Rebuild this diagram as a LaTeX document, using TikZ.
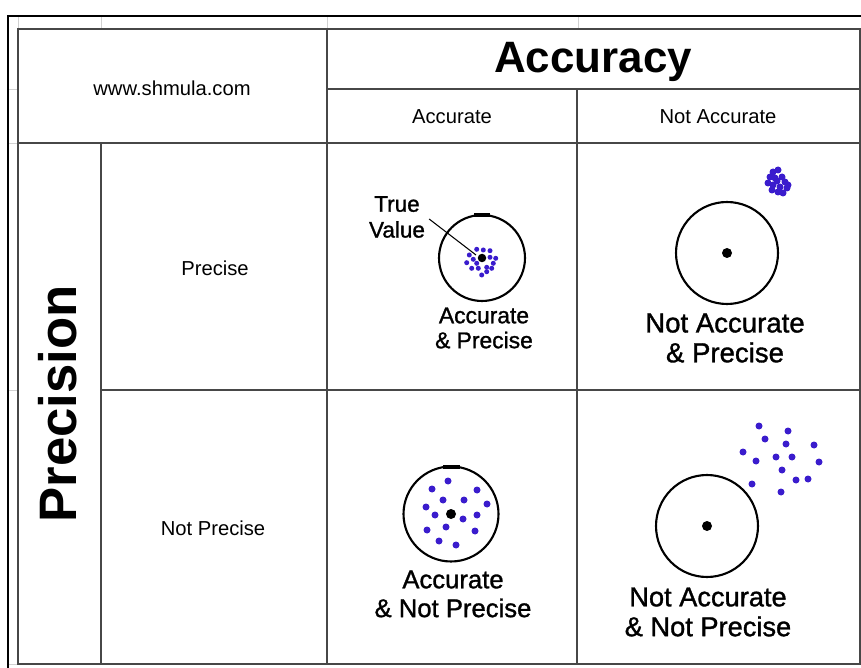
\documentclass[tikz,border=0pt]{standalone}
\usepackage{fontspec}
\setmainfont{Liberation Sans}
\newfontfamily\tagfamily[FakeBold=1.2]{Liberation Sans}
\usetikzlibrary{positioning, calc}

\definecolor{hitblue}{RGB}{58,28,205}

\begin{document}
\begin{tikzpicture}[
    x=0.02cm, y=-0.02cm,
    frame_line/.style={draw=black, line width=1.3pt},
    sheet_line/.style={draw=black!18, line width=0.5pt},
    grid_line/.style={draw=black!72, line width=1.1pt},
    head_font/.style={font=\fontsize{11.5}{13}\selectfont},
    big_font/.style={font=\fontsize{25}{28}\selectfont\bfseries},
    target/.style={circle, draw=black, line width=1.2pt, inner sep=0pt, fill=white},
    bullseye/.style={circle, fill=black, inner sep=0pt, minimum size=0.2cm},
    hit/.style={circle, fill=hitblue, inner sep=0pt, minimum size=0.14cm},
    small_hit/.style={circle, fill=hitblue, inner sep=0pt, minimum size=0.1cm},
    tag_font/.style={align=center, font=\tagfamily\fontsize{15.5}{17}\selectfont}
]
\useasboundingbox (0,0) rectangle (861,668);

% 1. Spreadsheet frame and faint grid
\draw[sheet_line] (18,16) -- (18,29);
\foreach \gx in {101, 327, 578} \draw[sheet_line] (\gx,16) -- (\gx,29);
\foreach \gy in {89, 143, 390, 664} \draw[sheet_line] (8,\gy) -- (18,\gy);
\draw[frame_line] (8,668) -- (8,16) -- (861,16);

% 2. Table grid
\draw[grid_line] (18,29) rectangle (860,664);
\draw[grid_line] (327,89) -- (860,89);
\draw[grid_line] (18,143) -- (860,143);
\draw[grid_line] (101,390) -- (860,390);
\draw[grid_line] (327,29) -- (327,664);
\draw[grid_line] (577,89) -- (577,664);
\draw[grid_line] (101,143) -- (101,664);

% 3. Headers
\node[head_font] (site) at (172,88) {www.shmula.com};
\node[big_font] (accuracy) at (593,62) {Accuracy};
\node[head_font] (acc) at (452,117) {Accurate};
\node[head_font] (notacc) at (718,117) {Not Accurate};
\node[head_font] (prec) at (215,268) {Precise};
\node[head_font] (notprec) at (213,528) {Not Precise};
\node[big_font, font=\fontsize{30}{32}\selectfont\bfseries, rotate=90] (precision) at (58,404) {Precision};

% 4. Accurate & Precise
\node[target, minimum size=1.72cm] (t_ap) at (482,258) {};
\draw[line width=2pt] (474,215) -- (490,215);
\foreach \hx/\hy in {476.7/249.3, 483.3/250, 490/250.7, 469.3/255, 473.3/259.3, 466.7/262.7,
    471.7/268.3, 478.3/268.3, 486.7/267.3, 493.3/263.3, 495.7/258.3, 490/257.3,
    481.7/275, 486.7/271.7, 476.7/263.3, 491.7/268.3}
    \node[small_hit] at (\hx,\hy) {};
\node[bullseye, minimum size=0.17cm] (c_ap) at (t_ap.center) {};
\node[tag_font, font=\tagfamily\fontsize{12.8}{14.7}\selectfont] (truev) at (397,217) {True\\Value};
\coordinate (tv_end) at (476,255);
\draw[line width=0.6pt] (truev.east) ++(-2,2) -- (tv_end);
\node[tag_font, font=\tagfamily\fontsize{13}{14.2}\selectfont] (l_ap) at (484,328) {Accurate\\\& Precise};

% 5. Not Accurate & Precise
\node[target, minimum size=2.04cm] (t_nap) at (727,253) {};
\node[bullseye] (c_nap) at (t_nap.center) {};
\foreach \hx/\hy in {773/172, 778/170, 770/177, 775/178, 782/177, 785/182, 768/183,
    773/185, 780/187, 787/188, 772/190, 783/193, 778/192, 788/185, 777/181}
    \node[hit] at (\hx,\hy) {};
\node[tag_font, font=\tagfamily\fontsize{15.7}{17}\selectfont] (l_nap) at (725,338) {Not Accurate\\\& Precise};

% 6. Accurate & Not Precise
\node[target, minimum size=1.9cm] (t_anp) at (451,514) {};
\draw[line width=2pt] (443,467) -- (460,467);
\foreach \hx/\hy in {448/481, 432/489, 477/490, 443/500, 464/500, 487/504, 426/507,
    435/515, 463/519, 477/515, 427/530, 446/527, 475/531, 439/541, 456/545}
    \node[hit] at (\hx,\hy) {};
\node[bullseye] (c_anp) at (t_anp.center) {};
\node[tag_font, font=\tagfamily\fontsize{14.6}{16.4}\selectfont] (l_anp) at (453,594) {Accurate\\\& Not Precise};

% 7. Not Accurate & Not Precise
\node[target, minimum size=2.04cm] (t_nanp) at (707,526) {};
\node[bullseye] (c_nanp) at (t_nanp.center) {};
\foreach \hx/\hy in {759/426, 788/431, 765/439, 786/444, 814/445, 743/452, 776/457,
    792/457, 756/461, 819/462, 782/470, 796/480, 808/479, 752/484, 781/492}
    \node[hit] at (\hx,\hy) {};
\node[tag_font] (l_nanp) at (708,612) {Not Accurate\\\& Not Precise};

\end{tikzpicture}
\end{document}
